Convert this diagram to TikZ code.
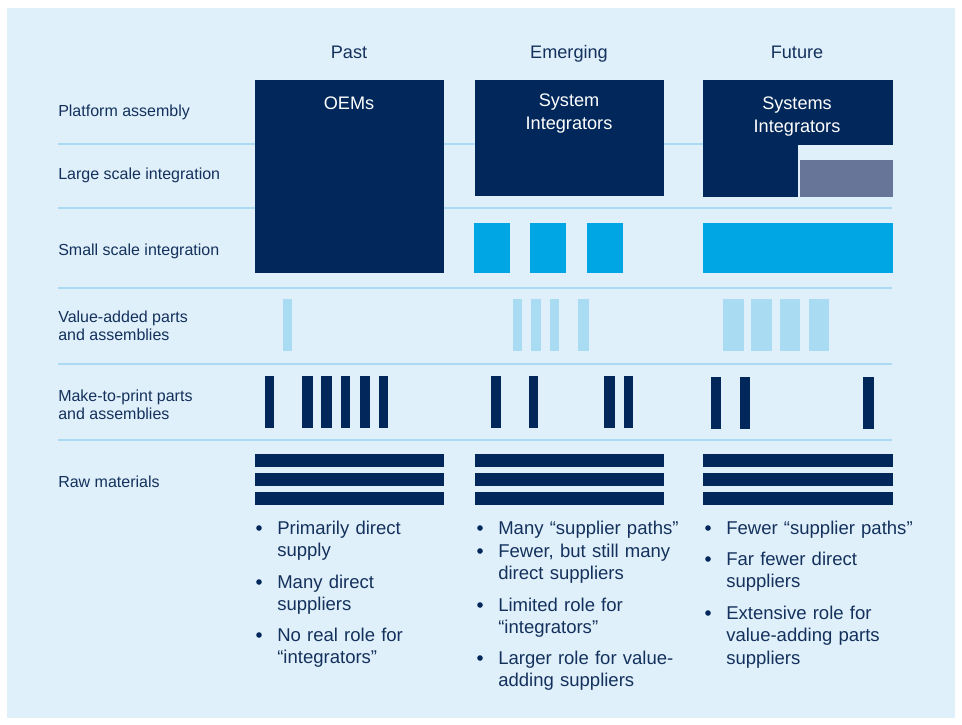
\documentclass[tikz,border=0pt]{standalone}
\usepackage{fontspec}
\setmainfont{Liberation Sans}
\usetikzlibrary{positioning}
\definecolor{panel}{HTML}{E0F0FA}
\definecolor{sepblue}{HTML}{ABDAF3}
\definecolor{navy}{HTML}{02275A}
\definecolor{labelnavy}{HTML}{13315C}
\definecolor{brightblue}{HTML}{00A6E4}
\definecolor{paleblue}{HTML}{A9DBF3}
\definecolor{slate}{HTML}{677698}
\tikzset{sepline/.style={draw=sepblue,line width=1.9pt}}
\tikzset{header/.style={anchor=base,font=\fontsize{13.6}{16}\selectfont,text=labelnavy}}
\tikzset{rowlabel/.style={anchor=west,inner sep=0pt,align=left,text=labelnavy,
        font=\fontsize{12}{13.6}\selectfont}}
\tikzset{boxtext/.style={align=center,text=white,font=\fontsize{13.6}{17.2}\selectfont}}
\tikzset{itemtext/.style={anchor=base west,inner sep=0pt,align=left,text width=140pt,
        text=labelnavy,font=\fontsize{13.9}{16.9}\selectfont}}
\tikzset{dot/.style={circle,fill=navy,inner sep=0pt,minimum size=4.2pt}}

\begin{document}
\begin{tikzpicture}[x=0.75pt,y=-0.75pt]
    \useasboundingbox (0,0) rectangle (962,724);
    \fill[panel] (7,8) rectangle (955,718);
    \foreach \y in {144,208,288,364,440}
        \draw[sepline] (58,\y) -- (892,\y);

    % headers
    \node[header] (past)     at (349,59) {Past};
    \node[header] (emerging) at (569,59) {Emerging};
    \node[header] (future)   at (797,59) {Future};

    % rows
    \node[rowlabel] (platform) at (58,112) {Platform assembly};
    \node[rowlabel] (large)    at (58,175) {Large scale integration};
    \node[rowlabel] (small)    at (58,251) {Small scale integration};
    \node[rowlabel] (valadd)   at (58,326) {Value-added parts\\and assemblies};
    \node[rowlabel] (mtp)      at (58,405) {Make-to-print parts\\and assemblies};
    \node[rowlabel] (raw)      at (58,482) {Raw materials};

    % integrators
    \fill[navy] (255,80) rectangle (444,273);
    \node[boxtext] (oems) at (349,103) {OEMs};
    \fill[navy] (475,80) rectangle (664,196);
    \node[boxtext] (sysint) at (569,114) {System\\Integrators};
    \fill[navy] (703,80) rectangle (893,145);
    \fill[navy] (703,144) rectangle (798,197);
    \fill[slate] (800,160) rectangle (893,197);
    \node[boxtext] (sysints) at (797,117) {Systems\\Integrators};

    % small scale
    \foreach \x in {474,530,587}
        \fill[brightblue] (\x,223) rectangle ++(36,50);
    \fill[brightblue] (703,223) rectangle (893,273);

    % value-added
    \foreach \a/\b in {283/292,513/522,531/541,550/559,578/589,723/744,751/772,780/800,809/829}
        \fill[paleblue] (\a,299) rectangle (\b,351);

    % make-to-print
    \foreach \a/\b in {265/274,302/313,321/332,341/350,360/370,379/388,491/501,529/538,604/615,624/633}
        \fill[navy] (\a,376) rectangle (\b,428);
    \foreach \a/\b in {711/721,740/750,863/874}
        \fill[navy] (\a,377) rectangle (\b,429);

    % raw materials
    \foreach \a/\b in {255/444,475/664,703/893}
        \foreach \y in {454,473,492}
            \fill[navy] (\a,\y) rectangle (\b,\y+13);

    % past
    \node[dot] (pd1) at (259,528) {};
    \node[itemtext] (pt1) at (277,534) {Primarily direct\\supply};
    \node[dot] (pd2) at (259,582) {};
    \node[itemtext] (pt2) at (277,588) {Many direct\\suppliers};
    \node[dot] (pd3) at (259,635) {};
    \node[itemtext] (pt3) at (277,641) {No real role for\\“integrators”};

    % emerging
    \node[dot] (ed1) at (480,528) {};
    \node[itemtext] (et1) at (498,534) {Many “supplier paths”};
    \node[dot] (ed2) at (480,551) {};
    \node[itemtext] (et2) at (498,557) {Fewer, but still many\\direct suppliers};
    \node[dot] (ed3) at (480,605) {};
    \node[itemtext] (et3) at (498,611) {Limited role for\\“integrators”};
    \node[dot] (ed4) at (480,658) {};
    \node[itemtext] (et4) at (498,664) {Larger role for value-\\adding suppliers};

    % future
    \node[dot] (fd1) at (708,528) {};
    \node[itemtext] (ft1) at (726,534) {Fewer “supplier paths”};
    \node[dot] (fd2) at (708,559) {};
    \node[itemtext] (ft2) at (726,565) {Far fewer direct\\suppliers};
    \node[dot] (fd3) at (708,613) {};
    \node[itemtext] (ft3) at (726,619) {Extensive role for\\value-adding parts\\suppliers};
\end{tikzpicture}
\end{document}
